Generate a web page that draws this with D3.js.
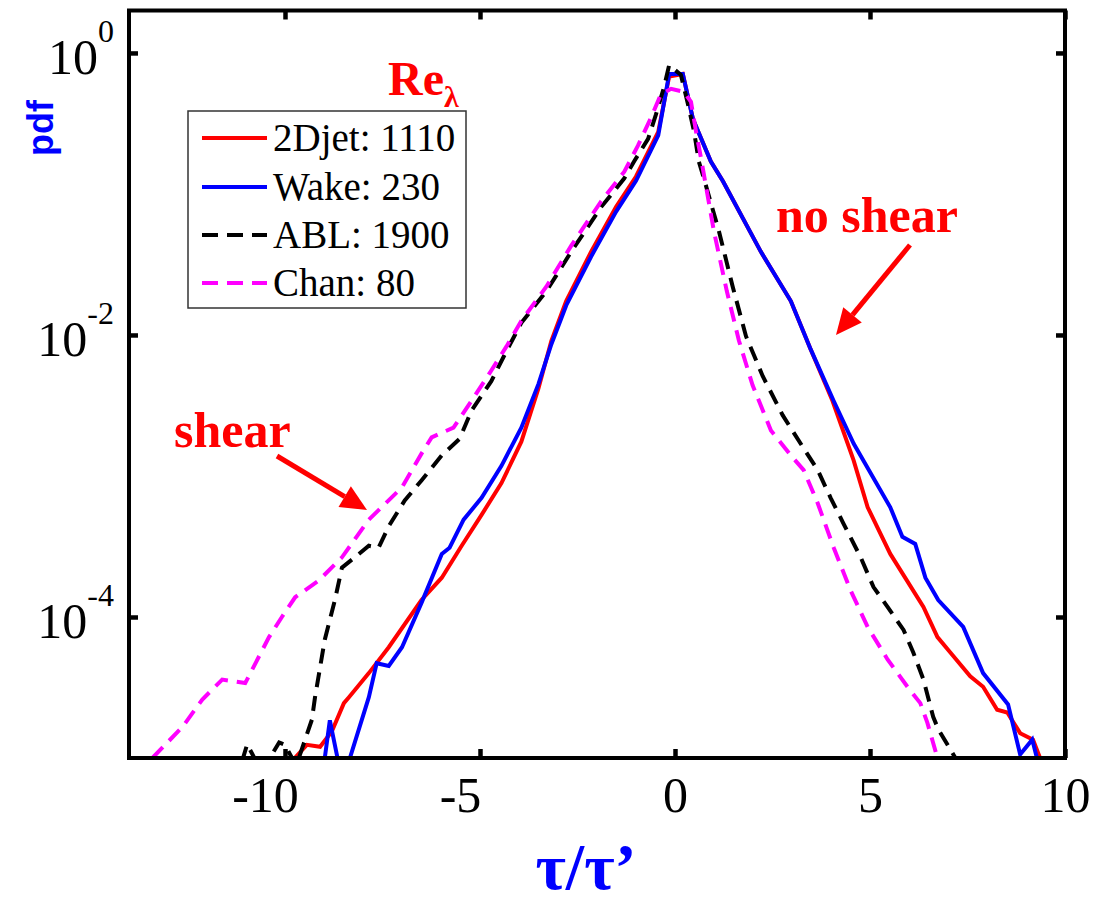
<!DOCTYPE html>
<html>
<head>
<meta charset="utf-8">
<script src="https://cdn.jsdelivr.net/npm/d3@7"></script>
<style>
  html, body { margin: 0; padding: 0; background: #fff; }
  svg { display: block; }
</style>
</head>
<body>
<svg id="chart" width="1093" height="909"></svg>
<script>
// PDF of tau/tau' for four flows (Re_lambda in legend)
const seriesNames = ["2Djet: 1110", "Wake: 230", "ABL: 1900", "Chan: 80"];
const seriesColors = ["#ff0000", "#0000ff", "#000000", "#ff00ff"];
const seriesDashes = [null, null, "15,9", "15,9"];

const jetX = [-9.75, -9.44, -9.10, -8.80, -8.49, -8.36, -7.85, -7.34, -6.50, -5.98, -5.47, -4.96, -4.45, -3.94, -3.50, -3.17, -2.79, -2.15, -1.51, -1.00, -0.43, -0.15, 0.20, 0.46, 0.92, 1.23, 2.20, 2.97, 3.48, 4.04, 4.58, 4.94, 5.52, 6.37, 6.73, 7.06, 7.57, 7.90, 8.26, 8.52, 8.85, 9.18, 9.36];
const jetP = [1.0e-5, 1.24e-5, 1.2e-5, 1.54e-5, 2.45e-5, 2.7e-5, 4.0e-5, 6.1e-5, 1.32e-4, 1.9e-4, 3.2e-4, 5.3e-4, 8.9e-4, 1.75e-3, 4.2e-3, 9.1e-3, 1.74e-2, 3.9e-2, 8.1e-2, 0.133, 0.276, 0.68, 0.71, 0.34, 0.17, 0.123, 0.039, 0.0174, 7.9e-3, 3.4e-3, 1.29e-3, 6.0e-4, 2.8e-4, 1.18e-4, 7.2e-5, 5.6e-5, 3.8e-5, 3.2e-5, 2.2e-5, 2.1e-5, 1.5e-5, 1.35e-5, 1.0e-5];

const wakeX = [-8.98, -8.85, -8.62, -8.36, -7.85, -7.65, -7.34, -7.00, -6.50, -5.98, -5.78, -5.42, -4.96, -4.45, -3.94, -3.50, -3.17, -2.79, -2.15, -1.51, -1.00, -0.43, -0.15, 0.20, 0.46, 0.92, 1.23, 2.20, 2.97, 3.48, 4.07, 4.58, 5.52, 5.83, 6.16, 6.42, 6.75, 7.39, 7.90, 8.54, 8.85, 9.16, 9.28];
const wakeP = [1.0e-5, 1.85e-5, 9.0e-6, 9.5e-6, 2.7e-5, 4.7e-5, 4.5e-5, 6.1e-5, 1.26e-4, 2.8e-4, 3.1e-4, 4.9e-4, 7.0e-4, 1.18e-3, 2.2e-3, 4.5e-3, 8.6e-3, 1.62e-2, 3.6e-2, 7.5e-2, 0.124, 0.26, 0.71, 0.71, 0.34, 0.17, 0.123, 0.039, 0.0174, 7.9e-3, 3.4e-3, 1.7e-3, 6.0e-4, 3.7e-4, 3.3e-4, 1.9e-4, 1.32e-4, 8.5e-5, 4.0e-5, 2.4e-5, 1.06e-5, 1.35e-5, 1.0e-5];

const ablX = [-11.10, -10.97, -10.60, -10.15, -10.00, -9.82, -9.70, -9.57, -9.31, -9.23, -8.98, -8.72, -8.54, -8.21, -7.85, -7.60, -7.34, -6.93, -6.50, -5.98, -5.52, -5.22, -4.71, -4.32, -3.94, -3.30, -2.66, -1.89, -1.30, -1.05, -0.69, -0.49, -0.28, -0.15, 0.15, 0.33, 0.49, 0.61, 0.74, 1.13, 1.48, 1.82, 2.25, 2.76, 3.22, 3.66, 3.99, 4.32, 4.76, 5.09, 5.45, 5.86, 6.11, 6.37, 6.62, 6.75, 7.19];
const ablP = [9.5e-6, 1.25e-5, 8.0e-6, 1.29e-5, 1.24e-5, 1.0e-5, 9.0e-6, 1.15e-5, 1.87e-5, 2.7e-5, 6.9e-5, 1.32e-4, 2.24e-4, 2.65e-4, 3.2e-4, 3.1e-4, 4.4e-4, 6.7e-4, 9.3e-4, 1.4e-3, 1.84e-3, 2.9e-3, 4.7e-3, 7.7e-3, 1.22e-2, 2.04e-2, 3.9e-2, 8.1e-2, 0.129, 0.17, 0.246, 0.365, 0.575, 0.82, 0.70, 0.436, 0.276, 0.17, 0.129, 0.054, 0.022, 9.8e-3, 5.1e-3, 2.7e-3, 1.7e-3, 1.1e-3, 7.0e-4, 4.6e-4, 2.65e-4, 1.63e-4, 1.18e-4, 8.1e-5, 5.6e-5, 3.6e-5, 1.96e-5, 1.6e-5, 1.0e-5];

const chanX = [-13.40, -12.63, -12.12, -11.61, -11.02, -10.41, -10.08, -9.74, -9.13, -8.54, -7.85, -7.00, -6.50, -6.24, -5.68, -5.22, -4.71, -4.32, -3.94, -3.30, -2.66, -1.89, -1.30, -0.95, -0.61, -0.36, -0.10, 0.23, 0.41, 0.54, 0.66, 1.00, 1.33, 1.64, 1.99, 2.46, 2.97, 3.30, 3.66, 4.07, 4.50, 4.94, 5.45, 5.96, 6.29, 6.47, 6.73];
const chanP = [1.0e-5, 1.66e-5, 2.6e-5, 3.6e-5, 3.4e-5, 7.2e-5, 1.0e-4, 1.38e-4, 1.82e-4, 2.65e-4, 4.9e-4, 8.3e-4, 1.44e-3, 1.88e-3, 2.2e-3, 3.4e-3, 5.6e-3, 8.3e-3, 1.26e-2, 2.2e-2, 4.3e-2, 8.9e-2, 0.144, 0.22, 0.35, 0.51, 0.557, 0.53, 0.45, 0.276, 0.184, 0.054, 0.0204, 9.1e-3, 4.4e-3, 2.1e-3, 1.4e-3, 1.1e-3, 6.4e-4, 3.1e-4, 1.55e-4, 8.5e-5, 5.0e-5, 3.2e-5, 2.45e-5, 1.78e-5, 1.0e-5];

const seriesX = [jetX, wakeX, ablX, chanX];
const seriesP = [jetP, wakeP, ablP, chanP];

const xTicks = [-10, -5, 0, 5, 10];
const yTicks = [1, 1e-2, 1e-4];
const yTickExponents = ["0", "-2", "-4"];

const svg = d3.select("#chart");
const plotL = 129, plotR = 1065, plotT = 10.5, plotB = 758;
const serif = "'Liberation Serif', 'Times New Roman', Times, serif";

const x = d3.scaleLinear().domain([-14, 10]).range([plotL, plotR]);
const y = d3.scaleLog().domain([1e-5, 2]).range([plotB, plotT]);

svg.append("defs").append("clipPath").attr("id", "plotClip")
  .append("rect").attr("x", plotL).attr("y", plotT)
  .attr("width", plotR - plotL).attr("height", plotB - plotT);

// curves
const line = d3.line().x(d => x(d[0])).y(d => y(d[1]));
const curves = svg.append("g").attr("clip-path", "url(#plotClip)");
seriesX.forEach((xs, i) => {
  const pts = xs.map((v, j) => [v, seriesP[i][j]]);
  curves.append("path")
    .datum(pts)
    .attr("d", line)
    .attr("fill", "none")
    .attr("stroke", seriesColors[i])
    .attr("stroke-width", 4)
    .attr("stroke-dasharray", seriesDashes[i])
    .attr("stroke-linejoin", "miter");
});

// axes with inward ticks
const tickStyle = g => {
  g.select(".domain").remove();
  g.selectAll(".tick line").attr("stroke", "#000").attr("stroke-width", 4.5);
};

const xBottom = svg.append("g").attr("transform", `translate(0,${plotB})`)
  .call(d3.axisBottom(x).tickValues(xTicks).tickSize(-9).tickPadding(18).tickFormat(d3.format("d")))
  .call(tickStyle);
xBottom.selectAll(".tick text")
  .attr("font-family", serif)
  .attr("font-size", 50)
  .attr("fill", "#000")
  .attr("dx", d => d < 0 ? -20 : 0)
  .text(d => d < 0 ? "-" + Math.abs(d) : String(d));

svg.append("g").attr("transform", `translate(0,${plotT})`)
  .call(d3.axisTop(x).tickValues(xTicks).tickSize(-9).tickFormat(""))
  .call(tickStyle);

const yLeft = svg.append("g").attr("transform", `translate(${plotL},0)`)
  .call(d3.axisLeft(y).tickValues(yTicks).tickSize(-9).tickFormat(""))
  .call(tickStyle);
yLeft.selectAll(".tick text").remove();
yLeft.selectAll(".tick").each(function(d, i) {
  const t = d3.select(this).append("text")
    .attr("x", -15).attr("y", 21)
    .attr("text-anchor", "end")
    .attr("font-family", serif)
    .attr("fill", "#000");
  t.append("tspan").attr("font-size", 50).text("10");
  t.append("tspan").attr("font-size", 32).attr("dy", -32).text(yTickExponents[i]);
});

svg.append("g").attr("transform", `translate(${plotR},0)`)
  .call(d3.axisRight(y).tickValues(yTicks).tickSize(-9).tickFormat(""))
  .call(tickStyle);

// frame
svg.append("rect")
  .attr("x", plotL).attr("y", plotT)
  .attr("width", plotR - plotL).attr("height", plotB - plotT)
  .attr("fill", "none").attr("stroke", "#000").attr("stroke-width", 4);

// axis titles
svg.append("text")
  .attr("x", 586).attr("y", 889)
  .attr("text-anchor", "middle")
  .attr("font-family", serif)
  .attr("font-weight", "bold")
  .attr("font-size", 66)
  .attr("fill", "#0000ff")
  .text("τ/τ’");

svg.append("text")
  .attr("transform", "translate(53,128) rotate(-90)")
  .attr("text-anchor", "middle")
  .attr("font-family", "'Liberation Sans', Arial, sans-serif")
  .attr("font-weight", "bold")
  .attr("font-size", 36)
  .attr("fill", "#0000ff")
  .text("pdf");

// legend
const legend = svg.append("g");
legend.append("rect")
  .attr("x", 188).attr("y", 111).attr("width", 278).attr("height", 197)
  .attr("fill", "#fff").attr("stroke", "#333").attr("stroke-width", 1.5);
const rowY = [138, 187, 235, 283];
seriesNames.forEach((name, i) => {
  legend.append("line")
    .attr("x1", 202).attr("x2", 267)
    .attr("y1", rowY[i]).attr("y2", rowY[i])
    .attr("stroke", seriesColors[i]).attr("stroke-width", 4)
    .attr("stroke-dasharray", seriesDashes[i] ? "16,9" : null);
  legend.append("text")
    .attr("x", 273).attr("y", rowY[i] + 13)
    .attr("font-family", serif)
    .attr("font-size", 39)
    .attr("fill", "#000")
    .text(name);
});

// Re_lambda heading
const re = svg.append("text")
  .attr("x", 388).attr("y", 95)
  .attr("font-family", serif)
  .attr("font-weight", "bold")
  .attr("fill", "#ff0000");
re.append("tspan").attr("font-size", 48).text("Re");
re.append("tspan").attr("font-size", 30).attr("dy", 12).text("λ");

// annotations
const annot = (label, tx, ty, x1, y1, x2, y2) => {
  svg.append("text")
    .attr("x", tx).attr("y", ty)
    .attr("font-family", serif)
    .attr("font-weight", "bold")
    .attr("font-size", 50)
    .attr("fill", "#ff0000")
    .text(label);
  const ang = Math.atan2(y2 - y1, x2 - x1);
  const headLen = 26, headW = 12;
  const bx = x2 - headLen * Math.cos(ang), by = y2 - headLen * Math.sin(ang);
  svg.append("line")
    .attr("x1", x1).attr("y1", y1).attr("x2", bx).attr("y2", by)
    .attr("stroke", "#ff0000").attr("stroke-width", 5);
  const px = -Math.sin(ang), py = Math.cos(ang);
  svg.append("polygon")
    .attr("points", [[x2, y2], [bx + px * headW, by + py * headW], [bx - px * headW, by - py * headW]].map(p => p.join(",")).join(" "))
    .attr("fill", "#ff0000");
};
annot("no shear", 776, 232, 910, 245, 836, 335);
annot("shear", 174, 447, 277, 456, 367, 510);
</script>
</body>
</html>
